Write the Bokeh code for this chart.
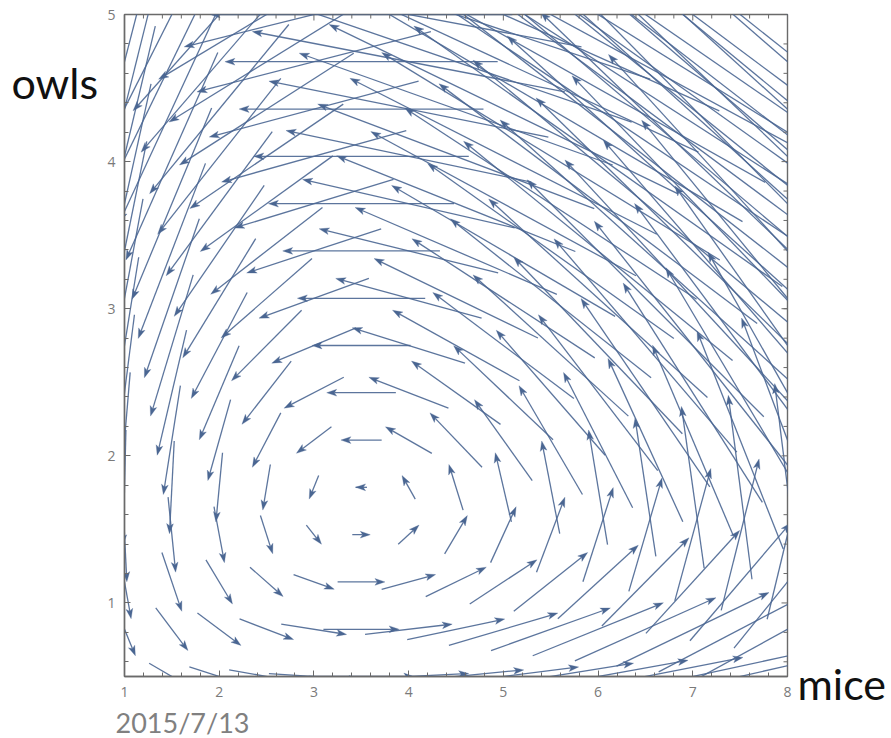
from bokeh.embed import file_html
from bokeh.resources import INLINE
from bokeh.plotting import figure
from bokeh.models import ColumnDataSource, FixedTicker, Label, Range1d

mice = [1, 1.5, 2, 2.5, 3, 3.5, 4, 4.5, 5, 5.5, 6, 6.5, 7, 7.5, 8]
owls = [0.5, 0.821, 1.143, 1.464, 1.786, 2.107, 2.429, 2.75, 3.071, 3.393, 3.714, 4.036, 4.357, 4.679, 5]

d_mice = [
    [.32, .48, .63, .79, .95, 1.11, 1.27, 1.43, 1.59, 1.75, 1.90, 2.06, 2.22, 2.38, 2.54],
    [.23, .34, .46, .57, .69, .80, .92, 1.03, 1.15, 1.26, 1.38, 1.49, 1.61, 1.72, 1.84],
    [.14, .21, .28, .35, .43, .50, .57, .64, .71, .78, .85, .92, .99, 1.06, 1.13],
    [.05, .08, .11, .13, .16, .19, .22, .24, .27, .30, .32, .35, .38, .40, .43],
    [-.03, -.05, -.07, -.08, -.10, -.12, -.14, -.15, -.17, -.19, -.20, -.22, -.24, -.25, -.27],
    [-.12, -.18, -.24, -.30, -.37, -.43, -.49, -.55, -.61, -.67, -.73, -.79, -.85, -.91, -.97],
    [-.21, -.31, -.42, -.52, -.63, -.73, -.84, -.94, -1.05, -1.15, -1.26, -1.36, -1.47, -1.57, -1.68],
    [-.30, -.45, -.59, -.74, -.89, -1.04, -1.19, -1.34, -1.49, -1.64, -1.78, -1.93, -2.08, -2.23, -2.38],
    [-.39, -.58, -.77, -.96, -1.16, -1.35, -1.54, -1.73, -1.93, -2.12, -2.31, -2.50, -2.70, -2.89, -3.08],
    [-.47, -.71, -.95, -1.18, -1.42, -1.66, -1.89, -2.13, -2.36, -2.60, -2.84, -3.07, -3.31, -3.55, -3.78],
    [-.56, -.84, -1.12, -1.40, -1.68, -1.96, -2.24, -2.52, -2.80, -3.08, -3.36, -3.64, -3.92, -4.21, -4.49],
    [-.65, -.97, -1.30, -1.62, -1.95, -2.27, -2.59, -2.92, -3.24, -3.57, -3.89, -4.22, -4.54, -4.86, -5.19],
    [-.74, -1.10, -1.47, -1.84, -2.21, -2.58, -2.95, -3.31, -3.68, -4.05, -4.42, -4.79, -5.15, -5.52, -5.89],
    [-.82, -1.24, -1.65, -2.06, -2.47, -2.88, -3.30, -3.71, -4.12, -4.53, -4.94, -5.36, -5.77, -6.18, -6.59],
    [-.91, -1.37, -1.82, -2.28, -2.74, -3.19, -3.65, -4.10, -4.56, -5.02, -5.47, -5.93, -6.38, -6.84, -7.30],
]
d_owls = [
    [-.22, -.18, -.13, -.09, -.04, 0, .04, .09, .13, .18, .22, .26, .31, .35, .39],
    [-.36, -.29, -.22, -.14, -.07, 0, .07, .14, .22, .29, .36, .43, .50, .58, .65],
    [-.50, -.40, -.30, -.20, -.10, 0, .10, .20, .30, .40, .50, .60, .70, .80, .90],
    [-.64, -.51, -.38, -.26, -.13, 0, .13, .26, .38, .51, .64, .77, .90, 1.03, 1.15],
    [-.78, -.63, -.47, -.31, -.16, 0, .16, .31, .47, .63, .78, .94, 1.10, 1.25, 1.41],
    [-.92, -.74, -.55, -.37, -.18, 0, .18, .37, .55, .74, .92, 1.11, 1.29, 1.48, 1.66],
    [-1.06, -.85, -.64, -.43, -.21, 0, .21, .43, .64, .85, 1.06, 1.28, 1.49, 1.70, 1.91],
    [-1.20, -.96, -.72, -.48, -.24, 0, .24, .48, .72, .96, 1.20, 1.45, 1.69, 1.93, 2.17],
    [-1.35, -1.08, -.81, -.54, -.27, 0, .27, .54, .81, 1.08, 1.35, 1.61, 1.88, 2.15, 2.42],
    [-1.49, -1.19, -.89, -.59, -.30, 0, .30, .59, .89, 1.19, 1.49, 1.78, 2.08, 2.38, 2.67],
    [-1.63, -1.30, -.98, -.65, -.33, 0, .33, .65, .98, 1.30, 1.63, 1.95, 2.28, 2.60, 2.93],
    [-1.77, -1.41, -1.06, -.71, -.35, 0, .35, .71, 1.06, 1.41, 1.77, 2.12, 2.47, 2.83, 3.18],
    [-1.91, -1.53, -1.15, -.76, -.38, 0, .38, .76, 1.15, 1.53, 1.91, 2.29, 2.67, 3.05, 3.44],
    [-2.05, -1.64, -1.23, -.82, -.41, 0, .41, .82, 1.23, 1.64, 2.05, 2.46, 2.87, 3.28, 3.69],
    [-2.19, -1.75, -1.31, -.88, -.44, 0, .44, .88, 1.31, 1.75, 2.19, 2.63, 3.07, 3.50, 3.94],
]
x_ticks = [1, 2, 3, 4, 5, 6, 7, 8]
y_ticks = [1, 2, 3, 4, 5]
x_minor = [1 + 0.2 * i for i in range(36)]
y_minor = [0.6 + 0.2 * i for i in range(22)]

W, H = 891, 738
FL, FR, FT, FB = 124, 787, 14, 676      # frame edges on the canvas
SX = (FR - FL) / 7.0                    # px per mouse
SY = (FB - FT) / 4.5                    # px per owl
COLOR = "#4a6692"
GREY = "#6a6a6a"
HEAD_L, HEAD_W, NOTCH = 10.0, 3.4, 2.4
MAJOR, MINOR = 6, 4

x0, y0, x1, y1, hx, hy = [], [], [], [], [], []
for j, oy in enumerate(owls):
    for i, mx in enumerate(mice):
        u, v = d_mice[j][i], d_owls[j][i]
        px, py = u * SX, v * SY
        n = (px * px + py * py) ** 0.5
        ux, uy = px / n, py / n
        tipx, tipy = mx + u / 2, oy + v / 2
        x0.append(mx - u / 2)
        y0.append(oy - v / 2)
        if n > NOTCH + HEAD_L:
            x1.append(tipx - ux * (HEAD_L - NOTCH) / SX)
            y1.append(tipy - uy * (HEAD_L - NOTCH) / SY)
        else:
            x1.append(tipx)
            y1.append(tipy)
        pts = [(0, 0), (-HEAD_L, HEAD_W), (-(HEAD_L - NOTCH), 0), (-HEAD_L, -HEAD_W)]
        hx.append([tipx + (a * ux - b * uy) / SX for a, b in pts])
        hy.append([tipy + (a * uy + b * ux) / SY for a, b in pts])

p = figure(width=W, height=H, output_backend="svg", toolbar_location=None,
           x_range=Range1d(1, 8), y_range=Range1d(0.5, 5),
           min_border_left=FL, min_border_right=W - FR, min_border_top=FT, min_border_bottom=H - FB)
p.grid.visible = False
p.background_fill_color = "white"
p.border_fill_color = "white"
p.outline_line_color = GREY
p.outline_line_width = 1.4

p.segment(x0="x0", y0="y0", x1="x1", y1="y1",
          source=ColumnDataSource(dict(x0=x0, y0=y0, x1=x1, y1=y1)),
          line_color=COLOR, line_width=1.3, line_alpha=0.9)
p.patches(xs="xs", ys="ys", source=ColumnDataSource(dict(xs=hx, ys=hy)),
          fill_color=COLOR, line_color=COLOR, line_width=0.3)

for ax, ticks, minor in [(p.xaxis[0], x_ticks, x_minor), (p.yaxis[0], y_ticks, y_minor)]:
    ax.ticker = FixedTicker(ticks=ticks, minor_ticks=minor)
    ax.axis_line_color = GREY
    ax.axis_line_width = 1.4
    ax.major_tick_line_color = GREY
    ax.minor_tick_line_color = GREY
    ax.major_tick_in = MAJOR
    ax.major_tick_out = 0
    ax.minor_tick_in = MINOR
    ax.minor_tick_out = 0
    ax.major_label_text_font = "Open Sans"
    ax.major_label_text_font_size = "14px"
    ax.major_label_text_color = "#7a7a7a"
p.xaxis[0].major_label_standoff = 10
p.yaxis[0].major_label_standoff = 9

# Inward ticks on the top and right sides of the frame (no labels there).
tx = [(t, MAJOR) for t in x_ticks] + [(t, MINOR) for t in x_minor if t not in x_ticks]
ty = [(t, MAJOR) for t in y_ticks] + [(t, MINOR) for t in y_minor if t not in y_ticks]
p.segment(x0=[t for t, _ in tx], y0=[5] * len(tx), x1=[t for t, _ in tx],
          y1=[5 - n / SY for _, n in tx], line_color=GREY, line_width=1)
p.segment(x0=[8] * len(ty), y0=[t for t, _ in ty], x1=[8 - n / SX for _, n in ty],
          y1=[t for t, _ in ty], line_color=GREY, line_width=1)

for txt, px, py, col, size, side in [("owls", -6, 594, "#111111", "43px", "left"),
                                     ("mice", 10, -7, "#111111", "43px", "right"),
                                     ("2015/7/13", -9, 10, "#808080", "27px", "below")]:
    p.add_layout(Label(x=px, y=py, x_units="screen", y_units="screen", text=txt,
                       text_font="Lato", text_font_size=size, text_color=col,
                       text_baseline="alphabetic"), side)

open("out.html", "w").write(file_html(p, INLINE))
